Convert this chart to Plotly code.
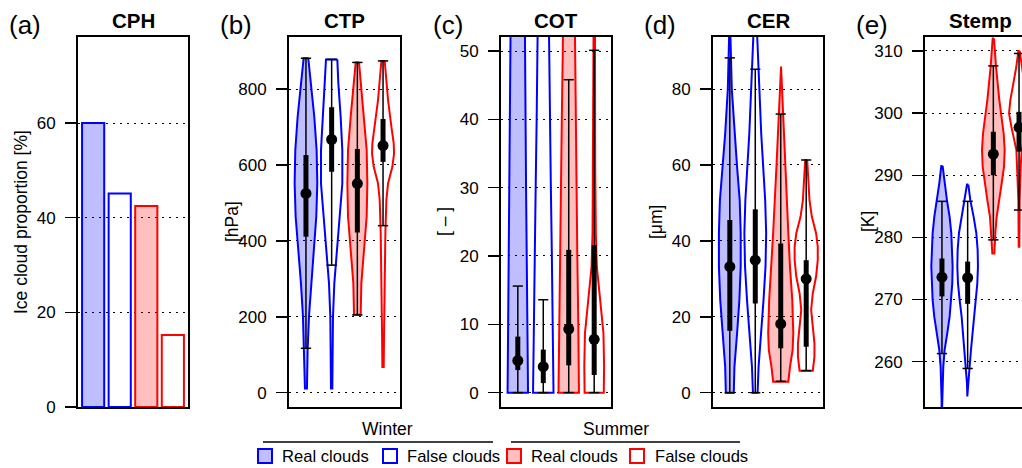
import plotly.graph_objects as go

# ---------------- data ----------------
groups = ["Winter real", "Winter false", "Summer real", "Summer false"]
cph_values = [60.0, 45.1, 42.5, 15.2]

# violin outlines: values (top->bottom) and relative half widths (density)
ctp_prof_v = [
    [881, 815, 727, 639, 551, 464, 376, 288, 200, 112, 11],
    [878, 815, 727, 639, 551, 464, 376, 288, 200, 11],
    [870, 815, 727, 639, 551, 464, 376, 288, 205],
    [874, 771, 701, 657, 630, 595, 551, 507, 420, 332, 244, 156, 68],
]
ctp_prof_w = [
    [7, 15, 25, 32, 34, 31, 23, 15, 9, 5, 3],
    [17, 20, 27, 32, 32, 25, 16, 8, 4, 2],
    [5, 10, 20, 28, 30, 28, 20, 12, 10],
    [5, 15, 25, 32, 33, 28, 15, 10, 7, 5, 4, 3, 2],
]
ctp_cap_lo = [117, 336, 205, 440]
ctp_cap_hi = [881, 878, 870, 874]
ctp_q1 = [411, 582, 422, 608]
ctp_q3 = [626, 752, 642, 721]
ctp_med = [525, 667, 551, 651]

cot_prof_v = [
    [70, 60, 50, 40, 30, 20, 10, 0],
    [70, 60, 50, 40, 30, 20, 10, 0],
    [70, 60, 50, 40, 30, 20, 10, 0],
    [70, 60, 52, 43, 33, 23.3, 18.4, 13.6, 8.7, 3.8, 0],
]
cot_prof_w = [
    [19, 20, 21, 23, 25, 27, 29, 31],
    [13, 15, 17, 20, 23, 26, 29, 31],
    [15, 17, 18, 21, 24, 26, 29, 31],
    [2, 2, 2, 3, 3, 5, 8, 18, 28, 30, 29],
]
cot_cap_lo = [0, 0, 0, 0]
cot_cap_hi = [15.6, 13.6, 45.8, 50.1]
cot_q1 = [3.3, 1.4, 4.0, 2.6]
cot_q3 = [8.2, 6.3, 20.9, 21.6]
cot_med = [4.7, 3.8, 9.3, 7.8]

cer_prof_v = [
    [105, 93.6, 80, 68.3, 59.5, 50.7, 42.0, 33.2, 24.4, 15.6, 6.8, 0],
    [105, 93.6, 68.3, 59.5, 50.7, 42.0, 33.2, 24.4, 15.6, 6.8, 0],
    [85.9, 77.1, 59.5, 42.0, 33.2, 24.4, 15.6, 11.2, 6.8, 2.9],
    [61.3, 50.7, 46.4, 42.0, 38.5, 34.9, 30.6, 26.2, 21.8, 17.4, 13.0, 9.5, 5.8],
]
cer_prof_w = [
    [1, 2, 6, 14, 22, 30, 33, 33, 29, 22, 14, 12],
    [4, 6, 18, 25, 30, 33, 31, 25, 18, 10, 7],
    [1, 5, 13, 23, 28, 35, 38, 36, 28, 23],
    [3, 10, 17, 30, 35, 35, 30, 20, 15, 20, 25, 25, 20],
]
cer_cap_lo = [0, 0, 3.0, 5.8]
cer_cap_hi = [88.2, 85.2, 73.4, 61.3]
cer_q1 = [16.3, 23.5, 11.7, 12.1]
cer_q3 = [45.5, 48.3, 39.3, 34.9]
cer_med = [33.2, 34.9, 18.1, 30.0]

stemp_prof_v = [
    [291.5, 288.7, 286.0, 283.3, 280.7, 278.0, 275.3, 272.6, 269.9, 267.2, 264.6, 261.9, 259.2, 253.8, 250.0],
    [288.5, 286.0, 283.3, 280.7, 278.0, 275.3, 272.6, 269.9, 267.2, 264.6, 261.9, 259.2, 256.5, 254.4],
    [312.0, 307.5, 302.1, 296.7, 294.1, 291.4, 288.7, 286.0, 283.3, 280.7, 277.4],
    [310.0, 307.5, 304.8, 302.1, 300.0, 297.8, 294.1, 291.4, 286.0, 278.5],
]
stemp_prof_w = [
    [2, 8, 15, 23, 28, 30, 32, 31, 28, 23, 16, 8, 4, 1, 1],
    [2, 8, 18, 26, 30, 31, 29, 24, 18, 13, 10, 6, 2, 1],
    [2, 8, 18, 31, 34, 32, 25, 18, 10, 6, 3],
    [2, 8, 16, 26, 30, 23, 8, 5, 2, 1],
]
stemp_cap_lo = [261.3, 258.9, 279.6, 284.4]
stemp_cap_hi = [285.8, 285.8, 307.6, 309.6]
stemp_q1 = [270.5, 269.3, 290.0, 293.8]
stemp_q3 = [276.6, 276.1, 297.0, 300.2]
stemp_med = [273.6, 273.5, 293.4, 297.7]

panel_letters = ["(a)", "(b)", "(c)", "(d)", "(e)"]
panel_titles = ["CPH", "CTP", "COT", "CER", "Stemp"]
y_titles = ["Ice cloud proportion [%]", "[hPa]", "[ \u2013 ]", "[\u03bcm]", "[K]"]
y_ticks = [[0, 20, 40, 60], [0, 200, 400, 600, 800], [0, 10, 20, 30, 40, 50],
           [0, 20, 40, 60, 80], [260, 270, 280, 290, 300, 310]]
y_ranges = [[0, 78.2], [-37.7, 937], [-2.1, 52.05], [-3.77, 93.7], [252.7, 312.25]]
season_labels = ["Winter", "Summer"]
legend_labels = ["Real clouds", "False clouds", "Real clouds", "False clouds"]

# ---------------- style ----------------
W, H = 1022, 468
FONT = "Liberation Sans, Arial, Helvetica, sans-serif"
line_cols = ["#0000ff", "#0000ff", "#ff0000", "#ff0000"]
fill_cols = ["rgba(0,0,255,0.25)", "rgba(0,0,0,0)", "rgba(255,0,0,0.25)", "rgba(0,0,0,0)"]
WSCALE = 1 / 77.1   # relative width -> x units
CAPW = 0.2
panel_left = [78, 289, 501, 713, 925]
panel_right = [188, 400, 611, 823, 1022]
top_px, bot_px = 37, 407
x_ranges = [[0.016, 4.984], [0.34, 4.66], [0.34, 4.66], [0.34, 4.66], [0.34, 0.34 + 97 / 25.69]]


def px_x(x):
    return x / W


def px_y(y):
    return 1 - y / H


fig = go.Figure()

# panel (a): bars
fig.add_trace(go.Bar(
    x=[0.7, 1.9, 3.1, 4.3], y=cph_values, width=1.0,
    marker=dict(color=fill_cols, line=dict(color=line_cols, width=2)),
    xaxis="x", yaxis="y", showlegend=False, hoverinfo="skip"))

violin_sets = [
    (ctp_prof_v, ctp_prof_w, ctp_cap_lo, ctp_cap_hi, ctp_q1, ctp_q3, ctp_med),
    (cot_prof_v, cot_prof_w, cot_cap_lo, cot_cap_hi, cot_q1, cot_q3, cot_med),
    (cer_prof_v, cer_prof_w, cer_cap_lo, cer_cap_hi, cer_q1, cer_q3, cer_med),
    (stemp_prof_v, stemp_prof_w, stemp_cap_lo, stemp_cap_hi, stemp_q1, stemp_q3, stemp_med),
]

for p, (pv, pw, clo, chi, q1, q3, med) in enumerate(violin_sets):
    xa = "x%d" % (p + 2)
    ya = "y%d" % (p + 2)
    for i in range(4):
        c = i + 1
        v = pv[i]
        w = [wi * WSCALE for wi in pw[i]]
        xs = [c + wi for wi in w] + [c - wi for wi in reversed(w)] + [c + w[0]]
        ys = list(v) + list(reversed(v)) + [v[0]]
        fig.add_trace(go.Scatter(
            x=xs, y=ys, mode="lines", fill="toself", fillcolor=fill_cols[i],
            line=dict(color=line_cols[i], width=2), xaxis=xa, yaxis=ya,
            showlegend=False, hoverinfo="skip"))
        # whisker line + caps
        fig.add_trace(go.Scatter(
            x=[c, c, None, c - CAPW, c + CAPW, None, c - CAPW, c + CAPW],
            y=[clo[i], chi[i], None, clo[i], clo[i], None, chi[i], chi[i]],
            mode="lines", line=dict(color="black", width=1.5), xaxis=xa, yaxis=ya,
            showlegend=False, hoverinfo="skip"))
        # IQR bar
        fig.add_trace(go.Scatter(
            x=[c, c], y=[q1[i], q3[i]], mode="lines",
            line=dict(color="black", width=5), xaxis=xa, yaxis=ya,
            showlegend=False, hoverinfo="skip"))
        # median
        fig.add_trace(go.Scatter(
            x=[c], y=[med[i]], mode="markers",
            marker=dict(color="black", size=11), xaxis=xa, yaxis=ya,
            showlegend=False, hoverinfo="skip", cliponaxis=True))

layout = dict(
    template="none",
    width=W, height=H, autosize=False,
    margin=dict(l=0, r=0, t=0, b=0, pad=0),
    paper_bgcolor="white", plot_bgcolor="white",
    font=dict(family=FONT, size=17, color="black"),
    showlegend=False,
)

annotations = []
shapes = []
for k in range(5):
    sx = "" if k == 0 else str(k + 1)
    layout["xaxis" + sx] = dict(
        domain=[px_x(panel_left[k]), px_x(panel_right[k])],
        range=x_ranges[k], showgrid=False, zeroline=False, automargin=False,
        showticklabels=False, ticks="", showline=True, mirror=True,
        linecolor="black", linewidth=2, anchor="y" + sx, fixedrange=True)
    layout["yaxis" + sx] = dict(
        domain=[px_y(bot_px), px_y(top_px)], range=y_ranges[k], automargin=False,
        tickvals=y_ticks[k], ticktext=[str(t) for t in y_ticks[k]],
        ticks="outside", ticklen=11, tickwidth=1.5, tickcolor="black",
        ticklabelstandoff=6,
        showgrid=True, gridcolor="black", gridwidth=1, griddash="1.5px,5.5px",
        zeroline=False, showline=True, mirror=(k < 4),
        linecolor="black", linewidth=2, anchor="x" + sx,
        tickfont=dict(size=17), fixedrange=True)
    cx = (panel_left[k] + (panel_right[k] if k < 4 else panel_left[k] + 111)) / 2
    annotations.append(dict(
        x=px_x(panel_left[k] - 53), y=px_y(25), xref="paper", yref="paper",
        text=panel_letters[k], showarrow=False, xanchor="center", yanchor="middle",
        font=dict(size=26)))
    annotations.append(dict(
        x=px_x(cx), y=px_y(21), xref="paper", yref="paper",
        text="<b>%s</b>" % panel_titles[k], showarrow=False,
        xanchor="center", yanchor="middle", font=dict(size=20.5)))
    annotations.append(dict(
        x=px_x(panel_left[k] - 57), y=px_y((top_px + bot_px) / 2), xref="paper", yref="paper",
        text=y_titles[k], showarrow=False, textangle=-90,
        xanchor="center", yanchor="middle", font=dict(size=17.5)))

# legend
season_cx = [387, 616]
season_lines = [(263, 493), (511, 740)]
for s in range(2):
    annotations.append(dict(
        x=px_x(season_cx[s]), y=px_y(429), xref="paper", yref="paper",
        text=season_labels[s], showarrow=False, xanchor="center", yanchor="middle",
        font=dict(size=17.5)))
    shapes.append(dict(
        type="line", xref="paper", yref="paper",
        x0=px_x(season_lines[s][0]), x1=px_x(season_lines[s][1]),
        y0=px_y(442), y1=px_y(442), line=dict(color="black", width=1.5)))

sq_left = [258, 383, 507, 630]
txt_left = [280, 405, 529, 653]
for i in range(4):
    shapes.append(dict(
        type="rect", xref="paper", yref="paper",
        x0=px_x(sq_left[i]), x1=px_x(sq_left[i] + 14),
        y0=px_y(463), y1=px_y(449),
        line=dict(color=line_cols[i], width=2), fillcolor=fill_cols[i]))
    annotations.append(dict(
        x=px_x(txt_left[i]), y=px_y(456.5), xref="paper", yref="paper",
        text=legend_labels[i], showarrow=False, xanchor="left", yanchor="middle",
        font=dict(size=16.6)))

layout["annotations"] = annotations
layout["shapes"] = shapes
fig.update_layout(**layout)

fig.write_html(
    "out.html",
    config={"displayModeBar": False, "staticPlot": True},
    post_script="document.body.style.margin='0';document.body.style.padding='0';"
                "document.body.style.overflow='hidden';")
